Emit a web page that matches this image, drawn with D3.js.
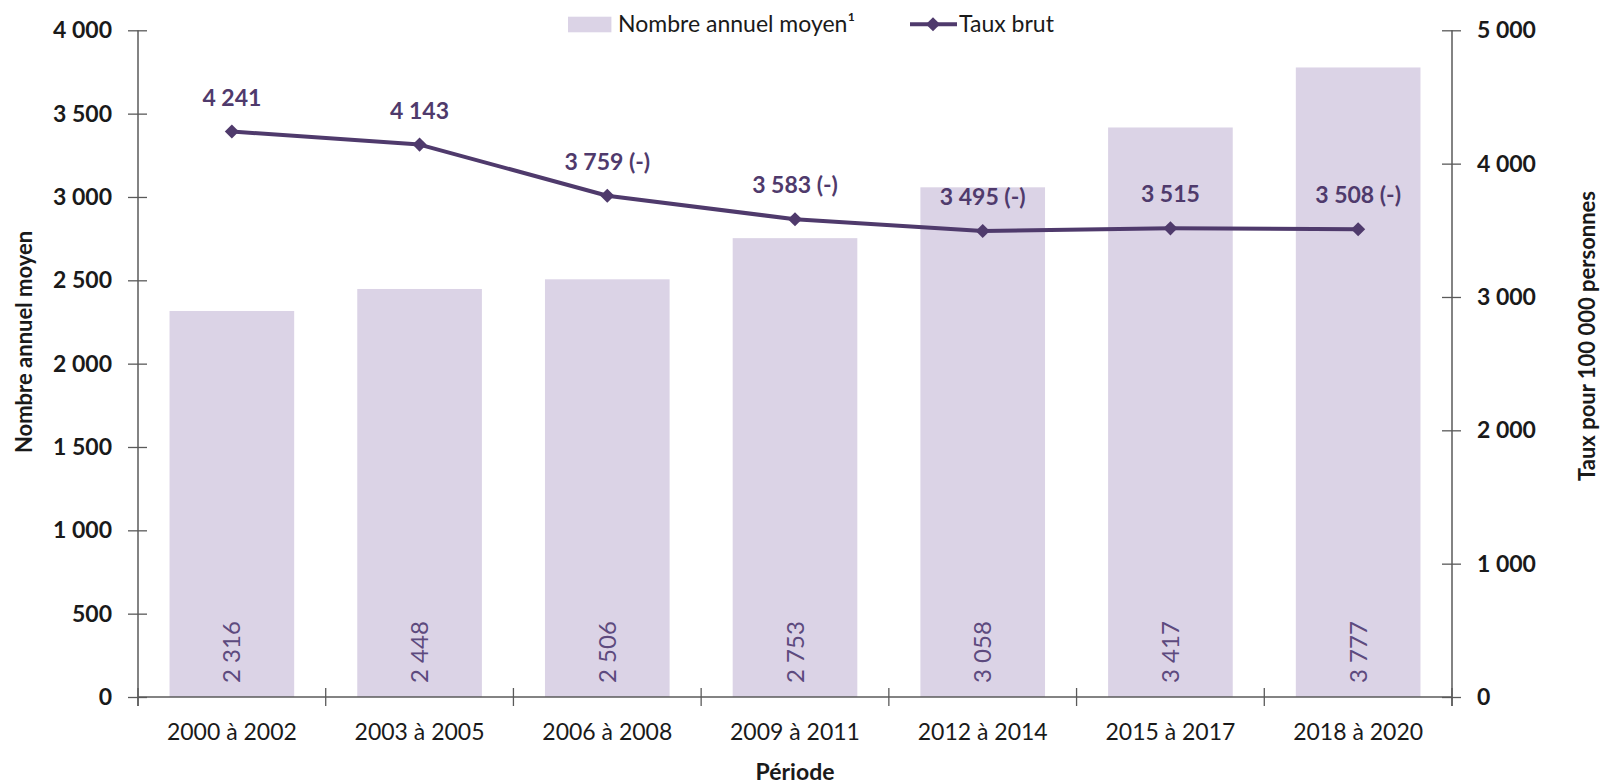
<!DOCTYPE html>
<html>
<head>
<meta charset="utf-8">
<script src="https://cdn.jsdelivr.net/npm/d3@7"></script>
<style>
  html, body { margin: 0; padding: 0; background: #ffffff; }
  svg { display: block; font-family: Lato, "Open Sans", sans-serif; }
</style>
</head>
<body>
<svg id="chart" width="1602" height="784"></svg>
<script>
const categories = ["2000 à 2002", "2003 à 2005", "2006 à 2008", "2009 à 2011", "2012 à 2014", "2015 à 2017", "2018 à 2020"];
const counts = [2316, 2448, 2506, 2753, 3058, 3417, 3777];
const rates = [4241, 4143, 3759, 3583, 3495, 3515, 3508];
const rateLabels = ["4 241", "4 143", "3 759 (-)", "3 583 (-)", "3 495 (-)", "3 515", "3 508 (-)"];
const leftTicks = [0, 500, 1000, 1500, 2000, 2500, 3000, 3500, 4000];
const rightTicks = [0, 1000, 2000, 3000, 4000, 5000];
const seriesNames = ["Nombre annuel moyen¹", "Taux brut"];
const axisTitles = { left: "Nombre annuel moyen", right: "Taux pour 100 000 personnes", bottom: "Période" };

const barColor = "#dbd3e6";
const lineColor = "#4f3a6c";
const axisColor = "#5a5a5a";
const textColor = "#1a1a1a";

const locale = d3.formatLocale({ decimal: ",", thousands: "\u2009", grouping: [3], currency: ["", ""] });
const fmt = v => locale.format(",")(v).replace(/\u2009/g, " ");

const svg = d3.select("#chart");
const L = 138, R = 1452, T = 30.3, B = 697;

const x = d3.scaleBand().domain(categories).range([L, R]).paddingInner(0.336).paddingOuter(0.168);
const yL = d3.scaleLinear().domain([0, 4000]).range([B, T]);
const yR = d3.scaleLinear().domain([0, 5000]).range([B, T]);

// Bars
svg.append("g").selectAll("rect").data(categories).join("rect")
  .attr("x", d => x(d)).attr("width", x.bandwidth())
  .attr("y", (d, i) => yL(counts[i])).attr("height", (d, i) => B - yL(counts[i]))
  .attr("fill", barColor);

// Bar labels (rotated)
svg.append("g").selectAll("text").data(categories).join("text")
  .attr("transform", d => `translate(${x(d) + x.bandwidth() / 2},${B - 14}) rotate(-90)`)
  .attr("dy", "0.36em")
  .attr("text-anchor", "start")
  .attr("font-size", 24)
  .attr("fill", "#5d4a7e")
  .text((d, i) => fmt(counts[i]));

// Left axis
const gL = svg.append("g").attr("transform", `translate(${L},0)`)
  .call(d3.axisLeft(yL).tickValues(leftTicks).tickFormat(fmt).tickSize(10).tickPadding(16));
gL.select(".domain").remove();
gL.selectAll(".tick line").attr("x1", 9).attr("x2", -10).attr("stroke", axisColor).attr("stroke-width", 1.3);
gL.selectAll(".tick text").attr("font-size", 23).attr("font-weight", "bold").attr("fill", textColor).attr("font-family", "Lato");
svg.append("line").attr("x1", L).attr("x2", L).attr("y1", T).attr("y2", B + 9)
  .attr("stroke", axisColor).attr("stroke-width", 1.5);

// Right axis
const gR = svg.append("g").attr("transform", `translate(${R},0)`)
  .call(d3.axisRight(yR).tickValues(rightTicks).tickFormat(fmt).tickSize(10).tickPadding(15));
gR.select(".domain").remove();
gR.selectAll(".tick line").attr("x1", -10).attr("x2", 9).attr("stroke", axisColor).attr("stroke-width", 1.3);
gR.selectAll(".tick text").attr("font-size", 23).attr("font-weight", "bold").attr("fill", textColor).attr("font-family", "Lato");
svg.append("line").attr("x1", R).attr("x2", R).attr("y1", T).attr("y2", B + 9)
  .attr("stroke", axisColor).attr("stroke-width", 1.5);

// Bottom axis
const gB = svg.append("g").attr("transform", `translate(0,${B})`)
  .call(d3.axisBottom(x).tickSize(0).tickPadding(27));
gB.select(".domain").remove();
gB.selectAll(".tick text").attr("font-size", 23).attr("fill", textColor).attr("font-family", "Lato");
svg.append("line").attr("x1", L).attr("x2", R).attr("y1", B).attr("y2", B)
  .attr("stroke", axisColor).attr("stroke-width", 1.5);
const half = (x.step() - x.bandwidth()) / 2;
const bounds = categories.map(c => x(c) - half).concat([x(categories[categories.length - 1]) + x.bandwidth() + half]);
svg.append("g").selectAll("line").data(bounds).join("line")
  .attr("x1", d => d).attr("x2", d => d).attr("y1", B - 9).attr("y2", B + 9)
  .attr("stroke", axisColor).attr("stroke-width", 1.3);

// Line
const cx = d => x(d) + x.bandwidth() / 2;
svg.append("path").datum(categories)
  .attr("fill", "none").attr("stroke", lineColor).attr("stroke-width", 4).attr("stroke-linejoin", "round")
  .attr("d", d3.line().x(d => cx(d)).y((d, i) => yR(rates[i])));
const diamond = d3.symbol().type(d3.symbolSquare).size(100);
svg.append("g").selectAll("path").data(categories).join("path")
  .attr("d", diamond)
  .attr("transform", (d, i) => `translate(${cx(d)},${yR(rates[i])}) rotate(45)`)
  .attr("fill", lineColor);
svg.append("g").selectAll("text").data(categories).join("text")
  .attr("x", d => cx(d)).attr("y", (d, i) => yR(rates[i]) - 26)
  .attr("text-anchor", "middle").attr("font-size", 23).attr("font-weight", "bold")
  .attr("fill", lineColor)
  .text((d, i) => rateLabels[i]);

// Axis titles
svg.append("text").attr("transform", `translate(32,342) rotate(-90)`)
  .attr("text-anchor", "middle").attr("font-size", 22).attr("font-weight", "bold").attr("fill", textColor)
  .text(axisTitles.left);
svg.append("text").attr("transform", `translate(1595,336) rotate(-90)`)
  .attr("text-anchor", "middle").attr("font-size", 22).attr("font-weight", "bold").attr("fill", textColor)
  .text(axisTitles.right);
svg.append("text").attr("x", (L + R) / 2).attr("y", 780)
  .attr("text-anchor", "middle").attr("font-size", 23).attr("font-weight", "bold").attr("fill", textColor)
  .text(axisTitles.bottom);

// Legend
const lg = svg.append("g");
lg.append("rect").attr("x", 568).attr("y", 16.7).attr("width", 43.4).attr("height", 15.6).attr("fill", barColor);
lg.append("text").attr("x", 618).attr("y", 32).attr("font-size", 23).attr("fill", textColor).text(seriesNames[0]);
lg.append("line").attr("x1", 910).attr("x2", 957).attr("y1", 24.3).attr("y2", 24.3)
  .attr("stroke", lineColor).attr("stroke-width", 4);
lg.append("path").attr("d", diamond).attr("transform", "translate(933,24.3) rotate(45)").attr("fill", lineColor);
lg.append("text").attr("x", 959).attr("y", 32).attr("font-size", 23).attr("fill", textColor).text(seriesNames[1]);
</script>
</body>
</html>
